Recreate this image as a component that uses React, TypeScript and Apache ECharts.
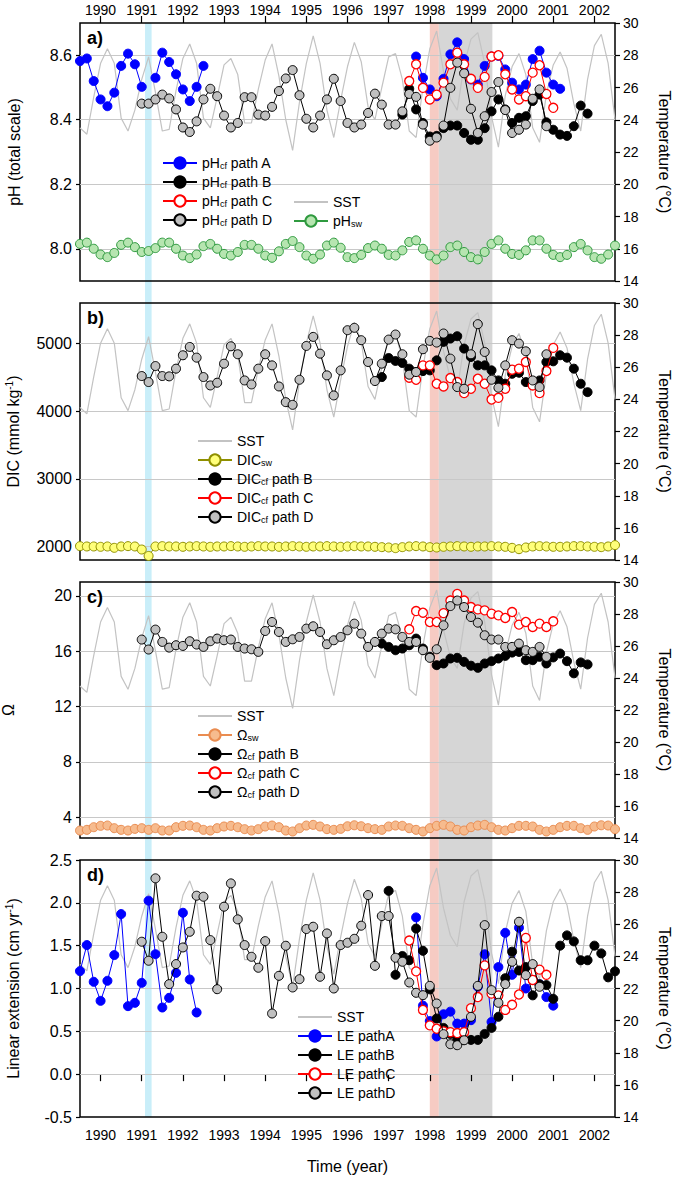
import React, { useEffect, useRef } from "react";
import * as echarts from "echarts";

const FONT = "'Liberation Sans', Arial, Helvetica, sans-serif";

// Time grid: bi-monthly samples starting mid-1989
const T0 = 1989.5;
const STEP = 1 / 6;
const YEARS = [1990, 1991, 1992, 1993, 1994, 1995, 1996, 1997, 1998, 1999, 2000, 2001, 2002];

// Sea surface temperature (°C), k = 0..78
const SST = [
  23.5, 23.1, 25.4, 27.5, 28.4, 27.5, 24.1, 23.3, 24.6, 26.5,
  27.9, 25.7, 23.3, 23.4, 25.8, 27.8, 28.7, 27.5, 24.1, 23.5,
  25.4, 27.4, 27.8, 26.8, 23.8, 23.8, 25.9, 27.7, 28.7, 26.7,
  24.0, 22.1, 25.1, 27.5, 29.2, 27.5, 24.6, 22.9, 25.2, 27.3,
  28.8, 27.6, 24.8, 24.0, 26.0, 27.9, 28.1, 26.5, 23.3, 22.9,
  26.0, 28.4, 29.5, 27.0, 25.3, 24.6, 27.4, 29.0, 29.4, 27.5,
  24.2, 22.3, 25.5, 27.3, 28.1, 26.8, 23.5, 22.6, 25.6, 27.4,
  28.2, 27.2, 25.0, 23.3, 26.5, 28.6, 29.3, 27.5, 24.0,
];

// Panel a: pH
const PH_SW = [
  8.015, 8.019, 8.0, 7.982, 7.974, 7.987, 8.012, 8.019, 8.005, 7.99,
  7.993, 8.002, 8.019, 8.019, 8.0, 7.979, 7.971, 7.982, 8.008, 8.015,
  8.0, 7.984, 7.979, 7.99, 8.012, 8.012, 8.0, 7.979, 7.972, 7.992,
  8.015, 8.024, 8.005, 7.979, 7.969, 7.982, 8.01, 8.019, 8.003, 7.974,
  7.971, 7.981, 8.002, 8.01, 8.0, 7.981, 7.979, 7.995, 8.021, 8.026,
  8.0, 7.979, 7.967, 7.979, 8.005, 8.01, 7.99, 7.974, 7.967, 7.99,
  8.015, 8.026, 8.0, 7.984, 7.981, 7.995, 8.026, 8.026, 8.0, 7.981,
  7.974, 7.981, 8.005, 8.015, 7.995, 7.974, 7.969, 7.982, 8.01,
];
const PH_A1_START = 0;
const PH_A1 = [8.582, 8.59, 8.52, 8.463, 8.442, 8.484, 8.567, 8.605, 8.572, 8.502, null, 8.53, 8.608, 8.579, 8.541, 8.494, 8.458, 8.502, 8.567];
const PH_A2_START = 49;
const PH_A2 = [8.596, 8.53, 8.494, 8.473, 8.527, 8.603, 8.64, 8.588, 8.525, 8.509, 8.567, 8.596, 8.598, 8.556, 8.515, 8.494, 8.509, 8.588, 8.614, 8.546, 8.509, 8.496];
const PH_B_START = 47;
const PH_B = [8.416, 8.496, 8.432, 8.39, 8.348, 8.35, 8.374, 8.382, 8.382, 8.359, 8.338, 8.338, 8.374, 8.426, 8.463, 8.432, 8.39, 8.406, 8.411, 8.458, 8.478, 8.392, 8.369, 8.354, 8.35, 8.38, 8.444, 8.419];
const PH_C_START = 48;
const PH_C = [8.52, 8.572, 8.499, 8.463, 8.478, 8.515, 8.572, 8.608, 8.572, 8.527, 8.499, 8.533, 8.596, 8.6, 8.541, 8.494, 8.463, 8.473, 8.546, 8.569, 8.48, 8.437];
const PH_D_START = 9;
const PH_D = [
  8.45, 8.45, 8.463, 8.478, 8.466, 8.432, 8.376, 8.362, 8.395, 8.463,
  8.496, 8.473, 8.413, 8.376, 8.39, 8.47, 8.47, 8.416, 8.413, 8.44,
  8.489, 8.528, 8.554, 8.476, 8.403, 8.376, 8.413, 8.463, 8.527, 8.458,
  8.39, 8.376, 8.385, 8.421, 8.481, 8.447, 8.385, 8.385, 8.426, 8.48,
  8.471, 8.385, 8.335, 8.345, 8.382, 8.499, 8.577, 8.544, 8.434, 8.359,
  8.411, 8.486, 8.517, 8.43, 8.359, 8.369, 8.385, 8.465, 8.494, 8.38,
];

// Panel b: DIC
const DIC_SW = [
  2005, 2000, 2000, 1995, 2000, 1980, 2000, 2005, 2000, 1955,
  1860, 2000, 2005, 2000, 2000, 1995, 2000, 2005, 2000, 1995,
  2000, 2000, 2005, 2000, 1995, 2000, 2005, 2000, 2000, 1995,
  2000, 2005, 2000, 1995, 2000, 2000, 2005, 2000, 1995, 2000,
  2005, 2000, 2000, 1995, 1990, 1985, 1975, 1990, 2000, 2005,
  2000, 1990, 1985, 1995, 2000, 2005, 2000, 1995, 2000, 2000,
  2005, 2000, 1995, 1980, 1960, 1985, 2000, 2005, 2000, 1995,
  1995, 2000, 2005, 2005, 2000, 1995, 1990, 2000, 2020,
];
const DIC_B_START = 44;
const DIC_B = [4505, 4787, 4743, 4713, 4629, 4579, 4594, 4604, 4752, 5025, 5074, 5109, 4926, 4802, 4678, 4678, 4604, 4455, 4406, 4554, 4569, 4431, 4406, 4455, 4728, 4738, 4827, 4792, 4629, 4406, 4282];
const DIC_C_START = 48;
const DIC_C = [4495, 4465, 4678, 4678, 4406, 4366, 4490, 4431, 4267, 4332, 4480, 4406, 4173, 4198, 4332, 4614, 4629, 4728, 4381, 4267, 4594, 4936];
const DIC_D_START = 9;
const DIC_D = [
  4520, 4431, 4668, 4520, 4515, 4629, 4827, 4950, 4792, 4505,
  4381, 4421, 4703, 4960, 4842, 4455, 4396, 4629, 4842, 4678,
  4366, 4134, 4094, 4465, 4965, 5099, 4851, 4530, 4233, 4604,
  5198, 5233, 5050, 4728, 4446, 4703, 5059, 5134, 4842, 4540,
  4579, 4916, 5040, 5015, 5149, 4777, 4357, 4332, 4842, 5287,
  4876, 4465, 4347, 4678, 5050, 5000, 4886, 4455, 4357, 4842,
];

// Panel c: aragonite saturation
const OM_SW = [
  3.04, 3.09, 3.28, 3.38, 3.4, 3.21, 3.09, 3.04, 3.16, 3.21,
  3.09, 3.21, 3.04, 3.04, 3.28, 3.38, 3.4, 3.28, 3.09, 3.04,
  3.21, 3.33, 3.38, 3.28, 3.14, 3.04, 3.14, 3.33, 3.4, 3.28,
  3.04, 2.97, 3.21, 3.4, 3.45, 3.33, 3.14, 3.09, 3.16, 3.35,
  3.42, 3.35, 3.21, 3.14, 3.09, 3.33, 3.4, 3.38, 3.21, 3.09,
  2.97, 3.21, 3.38, 3.45, 3.33, 3.09, 3.04, 3.28, 3.4, 3.45,
  3.28, 3.09, 3.04, 3.21, 3.38, 3.38, 3.33, 3.09, 2.97, 3.09,
  3.28, 3.38, 3.38, 3.21, 3.09, 3.33, 3.42, 3.4, 3.14,
];
const OM_B_START = 44;
const OM_B = [16.55, 16.31, 16.07, 16.19, 16.43, 16.91, 16.19, 15.59, 14.99, 15.11, 15.47, 15.52, 15.23, 14.95, 14.8, 15.11, 15.28, 15.47, 15.66, 15.9, 15.95, 15.35, 15.35, 15.59, 15.11, 15.55, 15.83, 15.28, 14.4, 15.19, 15.04];
const OM_C_START = 48;
const OM_C = [17.58, 18.9, 18.78, 18.11, 18.11, 18.75, 19.66, 20.14, 19.66, 19.19, 19.02, 18.95, 18.71, 18.59, 18.4, 18.83, 17.92, 18.11, 17.75, 17.99, 17.75, 18.16];
const OM_D_START = 9;
const OM_D = [
  16.84, 16.12, 17.56, 16.67, 16.26, 16.43, 16.38, 16.72, 16.48, 16.31,
  16.72, 16.91, 16.79, 16.84, 16.31, 16.19, 16.14, 15.95, 17.46, 18.11,
  17.39, 16.67, 16.86, 17.03, 17.63, 17.8, 17.39, 16.5, 16.79, 17.03,
  17.51, 17.99, 17.27, 16.31, 16.67, 17.27, 17.63, 17.58, 17.03, 16.67,
  16.67, 16.07, 15.52, 16.14, 17.87, 19.26, 19.66, 19.19, 18.47, 18.06,
  17.15, 16.84, 16.84, 16.31, 16.31, 16.55, 16.07, 15.95, 16.31, 15.59,
];

// Panel d: linear extension (cm/yr)
const LE_A1_START = 0;
const LE_A1 = [1.203, 1.507, 1.078, 0.856, 1.09, 1.39, 1.869, 0.794, 0.833, 1.066, 2.025, 1.401, 0.778, 0.891, 1.183, 1.884, 1.105, 0.72];
const LE_A2_START = 49;
const LE_A2 = [1.83, 0.8, 0.62, 0.44, 0.7, 0.73, 0.59, 0.59, 0.63, 1.02, 1.4, 0.61, 1.25, 1.65, 1.16, 1.71, 1.0, 1.1, 1.05, 0.9, 0.8];
const LE_B_START = 45;
const LE_B = [2.14, 1.16, 1.38, 1.33, 1.7, 1.44, 0.99, 0.65, 0.54, 0.47, 0.4, 0.4, 0.4, 0.4, 0.47, 0.54, 0.67, 1.12, 1.43, 1.21, 1.25, 0.92, 1.05, 1.04, 0.88, 1.5, 1.62, 1.55, 1.33, 1.33, 1.5, 1.41, 1.13, 1.2];
const LE_C_START = 48;
const LE_C = [1.56, 1.2, 0.75, 0.57, 0.53, 0.5, 0.49, 0.48, 0.49, 0.77, 0.9, 1.27, 0.94, 0.92, 0.75, 0.81, 0.93, 1.59, 1.1, 1.22, 1.16];
const LE_D_START = 9;
const LE_D = [
  1.546, 1.324, 2.286, 1.604, 1.051, 1.285, 1.479, 1.662, 2.083, 2.071,
  1.565, 0.992, 1.955, 2.227, 1.807, 1.507, 1.37, 1.242, 1.553, 0.708,
  1.148, 1.499, 1.012, 1.109, 1.694, 1.721, 1.137, 1.643, 1.0, 1.507,
  1.534, 1.58, 1.733, 2.091, 1.265, 1.846, 1.846, 1.359, 1.312, 1.07,
  0.95, 0.922, 1.031, 0.825, 0.467, 0.35, 0.338, 0.396, 0.669, 1.031,
  1.74, 0.981, 0.833, 1.051, 1.312, 1.779, 1.156, 1.285, 1.02,
];

// Shaded periods (years)
const BANDS = [
  { from: 1991.08, to: 1991.24 },
  { from: 1998.0, to: 1998.22 },
  { from: 1998.22, to: 1999.52 },
];
const BAND_COLORS = ["#c9eef9", "#f6cbc3", "#d6d6d6"];

// Axis ticks
const PH_TICKS = [8.0, 8.2, 8.4, 8.6];
const DIC_TICKS = [2000, 3000, 4000, 5000];
const OM_TICKS = [4, 8, 12, 16, 20];
const LE_TICKS = [-0.5, 0.0, 0.5, 1.0, 1.5, 2.0, 2.5];
const LE_GRIDLINES = [0.0, 0.5, 1.0, 1.5, 2.0];

// ---------- helpers ----------
function seg(start: number, values: (number | null)[]) {
  return values.map((v, i) => [T0 + (start + i) * STEP, v]);
}
function join(a: any[], b: any[]) {
  return [...a, [(a[a.length - 1][0] + b[0][0]) / 2, null], ...b];
}

const GRIDS = [
  { top: 23, height: 258 },
  { top: 303, height: 257 },
  { top: 582, height: 256 },
  { top: 860, height: 257 },
];

const STYLES: Record<string, any> = {
  A: { fill: "#0000ff", border: "#0000ff", line: "#0000ff", bw: 1 },
  B: { fill: "#000000", border: "#000000", line: "#000000", bw: 1 },
  C: { fill: "#ffffff", border: "#ff0000", line: "#ff0000", bw: 1.3 },
  D: { fill: "#c0c0c0", border: "#000000", line: "#000000", bw: 1 },
  PHSW: { fill: "#b6e5b0", border: "#2f9a3f", line: "#2f9a3f", bw: 1 },
  DICSW: { fill: "#ffff7a", border: "#8f8f00", line: "#8f8f00", bw: 1 },
  OMSW: { fill: "#f6bb8e", border: "#ea8c50", line: "#ea8c50", bw: 1 },
};

function pts(name: string, data: any[], xi: number, yi: number, st: any, z: number, extra: any = {}) {
  return {
    type: "line",
    name,
    data,
    xAxisIndex: xi,
    yAxisIndex: yi,
    symbol: "circle",
    symbolSize: 9,
    showSymbol: true,
    showAllSymbol: true,
    connectNulls: false,
    clip: false,
    z,
    silent: true,
    emphasis: { disabled: true },
    lineStyle: { color: st.line, width: 1 },
    itemStyle: { color: st.fill, borderColor: st.border, borderWidth: st.bw },
    ...extra,
  };
}
function sst(xi: number, yi: number) {
  return {
    type: "line",
    name: "SST",
    data: seg(0, SST),
    xAxisIndex: xi,
    yAxisIndex: yi,
    symbol: "none",
    z: 2,
    silent: true,
    clip: false,
    emphasis: { disabled: true },
    lineStyle: { color: "#c3c3c3", width: 1.2 },
    itemStyle: { color: "#c3c3c3" },
  };
}
function gridLines(values: number[]) {
  return {
    silent: true,
    symbol: ["none", "none"],
    label: { show: false },
    z: 1,
    emphasis: { disabled: true },
    lineStyle: { color: "#c8c8c8", width: 1, type: "solid" },
    data: values.map((v) => ({ yAxis: v })),
  };
}

function xAxis(gridIndex: number, position: string, labels: boolean, margin: number, extra: any = {}) {
  return {
    type: "value",
    gridIndex,
    position,
    min: 1989.5,
    max: 2002.5,
    axisLine: { show: false },
    splitLine: { show: false },
    axisTick: { show: labels, customValues: YEARS, length: 7, lineStyle: { color: "#000", width: 1.2 } },
    axisLabel: {
      show: labels,
      customValues: YEARS,
      formatter: (v: number) => String(Math.round(v)),
      fontSize: 14,
      color: "#000",
      margin,
      fontFamily: FONT,
    },
    ...extra,
  };
}
function leftAxis(gridIndex: number, min: number, max: number, ticks: number[], dec: number, name: string, nameGap: number, rich?: any) {
  return {
    type: "value",
    gridIndex,
    position: "left",
    min,
    max,
    axisLine: { show: false },
    splitLine: { show: false },
    axisTick: { show: true, customValues: ticks, length: 4, lineStyle: { color: "#000", width: 1.2 } },
    axisLabel: {
      customValues: ticks,
      formatter: (v: number) => v.toFixed(dec),
      fontSize: 16,
      color: "#000",
      margin: 8,
      fontFamily: FONT,
    },
    name,
    nameLocation: "middle",
    nameGap,
    nameTextStyle: { fontSize: 16, color: "#000", fontFamily: FONT, rich },
  };
}
function rightAxis(gridIndex: number) {
  return {
    type: "value",
    gridIndex,
    position: "right",
    min: 14,
    max: 30,
    interval: 2,
    axisLine: { show: false },
    splitLine: { show: false },
    axisTick: { show: true, length: 5, lineStyle: { color: "#000", width: 1.2 } },
    axisLabel: { fontSize: 14, color: "#000", margin: 8, fontFamily: FONT },
    name: "Temperature (°C)",
    nameLocation: "middle",
    nameRotate: -90,
    nameGap: 41,
    nameTextStyle: { fontSize: 16, color: "#000", fontFamily: FONT },
  };
}

const SUPER_RICH = {
  t: { fontSize: 16, lineHeight: 18, fontFamily: FONT, color: "#000" },
  sup: { fontSize: 10, lineHeight: 8, verticalAlign: "top", fontFamily: FONT, color: "#000" },
};

const LEGEND_RICH = {
  t: { fontSize: 14, lineHeight: 14, fontFamily: FONT, color: "#000" },
  s: { fontSize: 9, lineHeight: 5, verticalAlign: "bottom", fontFamily: FONT, color: "#000" },
};

const LEGEND_TEXT: Record<string, string> = {
  "pHcf path A": "{t|pH}{s|cf}{t| path A}",
  "pHcf path B": "{t|pH}{s|cf}{t| path B}",
  "pHcf path C": "{t|pH}{s|cf}{t| path C}",
  "pHcf path D": "{t|pH}{s|cf}{t| path D}",
  pHsw: "{t|pH}{s|sw}",
  SST: "{t|SST}",
  DICsw: "{t|DIC}{s|sw}",
  "DICcf path B": "{t|DIC}{s|cf}{t| path B}",
  "DICcf path C": "{t|DIC}{s|cf}{t| path C}",
  "DICcf path D": "{t|DIC}{s|cf}{t| path D}",
  "Ωsw": "{t|Ω}{s|sw}",
  "Ωcf path B": "{t|Ω}{s|cf}{t| path B}",
  "Ωcf path C": "{t|Ω}{s|cf}{t| path C}",
  "Ωcf path D": "{t|Ω}{s|cf}{t| path D}",
  "LE pathA": "{t|LE pathA}",
  "LE pathB": "{t|LE pathB}",
  "LE pathC": "{t|LE pathC}",
  "LE pathD": "{t|LE pathD}",
};

function legend(left: number, top: number, names: string[]) {
  return {
    orient: "vertical",
    left,
    top,
    padding: 0,
    itemWidth: 34,
    itemHeight: 14,
    itemGap: 5,
    selectedMode: false,
    data: names.map((n) =>
      n === "SST" ? { name: n, itemStyle: { color: "rgba(0,0,0,0)", borderColor: "rgba(0,0,0,0)", borderWidth: 0 } } : { name: n }
    ),
    formatter: (n: string) => LEGEND_TEXT[n] || n,
    textStyle: { fontSize: 14, color: "#000", fontFamily: FONT, rich: LEGEND_RICH },
  };
}

function buildOption() {
  const grids = GRIDS.map((g) => ({
    left: 80,
    right: 60,
    top: g.top,
    height: g.height,
    show: true,
    borderColor: "#000",
    borderWidth: 1.5,
    backgroundColor: "rgba(0,0,0,0)",
    outerBoundsMode: "none",
  }));
  grids.push({
    left: 80,
    right: 60,
    top: 23,
    height: 1094,
    show: false,
    borderColor: "#000",
    borderWidth: 0,
    backgroundColor: "rgba(0,0,0,0)",
    outerBoundsMode: "none",
  } as any);

  const xAxes = [
    xAxis(0, "bottom", false, 8),
    xAxis(0, "top", true, 6),
    xAxis(1, "bottom", false, 8),
    xAxis(2, "bottom", false, 8),
    xAxis(3, "bottom", true, 11, {
      name: "Time (year)",
      nameLocation: "middle",
      nameGap: 41,
      nameTextStyle: { fontSize: 16, color: "#000", fontFamily: FONT },
    }),
    { type: "value", gridIndex: 4, min: 1989.5, max: 2002.5, show: false },
  ];
  const yAxes = [
    leftAxis(0, 7.9, 8.7, PH_TICKS, 1, "pH (total scale)", 58),
    rightAxis(0),
    leftAxis(1, 1800, 5600, DIC_TICKS, 0, "{t|DIC (mmol kg}{sup|-1}{t|)}", 58, SUPER_RICH),
    rightAxis(1),
    leftAxis(2, 2.5, 21, OM_TICKS, 0, "Ω", 64),
    rightAxis(2),
    leftAxis(3, -0.5, 2.5, LE_TICKS, 1, "{t|Linear extension (cm yr}{sup|-1}{t|)}", 58, SUPER_RICH),
    rightAxis(3),
    { type: "value", gridIndex: 4, min: 0, max: 1, show: false },
  ];

  const series: any[] = [
    // shaded periods spanning all panels
    {
      type: "line",
      name: "bands",
      xAxisIndex: 5,
      yAxisIndex: 8,
      data: [[BANDS[0].from, 0]],
      symbol: "none",
      silent: true,
      lineStyle: { opacity: 0 },
      markArea: {
        silent: true,
        z: -1,
        emphasis: { disabled: true },
        label: { show: false },
        data: BANDS.map((b, i) => [
          { xAxis: b.from, itemStyle: { color: BAND_COLORS[i], opacity: 1 } },
          { xAxis: b.to },
        ]),
      },
    },
    // panel a
    sst(0, 1),
    pts("pHsw", seg(0, PH_SW), 0, 0, STYLES.PHSW, 3, { markLine: gridLines(PH_TICKS) }),
    pts("pHcf path A", join(seg(PH_A1_START, PH_A1), seg(PH_A2_START, PH_A2)), 0, 0, STYLES.A, 4),
    pts("pHcf path B", seg(PH_B_START, PH_B), 0, 0, STYLES.B, 5),
    pts("pHcf path C", seg(PH_C_START, PH_C), 0, 0, STYLES.C, 6),
    pts("pHcf path D", seg(PH_D_START, PH_D), 0, 0, STYLES.D, 7),
    // panel b
    sst(2, 3),
    pts("DICsw", seg(0, DIC_SW), 2, 2, STYLES.DICSW, 3, { markLine: gridLines(DIC_TICKS) }),
    pts("DICcf path B", seg(DIC_B_START, DIC_B), 2, 2, STYLES.B, 5),
    pts("DICcf path C", seg(DIC_C_START, DIC_C), 2, 2, STYLES.C, 6),
    pts("DICcf path D", seg(DIC_D_START, DIC_D), 2, 2, STYLES.D, 7),
    // panel c
    sst(3, 5),
    pts("Ωsw", seg(0, OM_SW), 3, 4, STYLES.OMSW, 3, { markLine: gridLines(OM_TICKS) }),
    pts("Ωcf path B", seg(OM_B_START, OM_B), 3, 4, STYLES.B, 5),
    pts("Ωcf path C", seg(OM_C_START, OM_C), 3, 4, STYLES.C, 6),
    pts("Ωcf path D", seg(OM_D_START, OM_D), 3, 4, STYLES.D, 7),
    // panel d
    sst(4, 7),
    pts("LE pathA", join(seg(LE_A1_START, LE_A1), seg(LE_A2_START, LE_A2)), 4, 6, STYLES.A, 4),
    pts("LE pathB", seg(LE_B_START, LE_B), 4, 6, STYLES.B, 5),
    pts("LE pathC", seg(LE_C_START, LE_C), 4, 6, STYLES.C, 6),
    pts("LE pathD", seg(LE_D_START, LE_D), 4, 6, STYLES.D, 7, { markLine: gridLines(LE_GRIDLINES) }),
  ];

  const legends = [
    legend(162, 156, ["pHcf path A", "pHcf path B", "pHcf path C", "pHcf path D"]),
    legend(293, 195, ["SST", "pHsw"]),
    legend(197, 434, ["SST", "DICsw", "DICcf path B", "DICcf path C", "DICcf path D"]),
    legend(197, 709, ["SST", "Ωsw", "Ωcf path B", "Ωcf path C", "Ωcf path D"]),
    legend(297, 1010, ["SST", "LE pathA", "LE pathB", "LE pathC", "LE pathD"]),
  ];

  const labelTops = [29, 309, 588, 866];
  const graphic = ["a)", "b)", "c)", "d)"].map((t, i) => ({
    type: "text",
    left: 87,
    top: labelTops[i],
    z: 10,
    style: { text: t, fontSize: 18, fontWeight: "bold", fontFamily: FONT, fill: "#000" },
  }));

  return {
    animation: false,
    backgroundColor: "#ffffff",
    textStyle: { fontFamily: FONT, color: "#000" },
    grid: grids,
    xAxis: xAxes,
    yAxis: yAxes,
    legend: legends,
    graphic,
    series,
  };
}

export default function App() {
  const ref = useRef<HTMLDivElement>(null);
  useEffect(() => {
    if (!ref.current) return;
    const chart = echarts.init(ref.current, null, { renderer: "svg" });
    chart.setOption(buildOption() as any);
    return () => chart.dispose();
  }, []);
  return (
    <div
      ref={ref}
      style={{ position: "absolute", left: 0, top: 0, width: 675, height: 1181, background: "#fff" }}
    />
  );
}
